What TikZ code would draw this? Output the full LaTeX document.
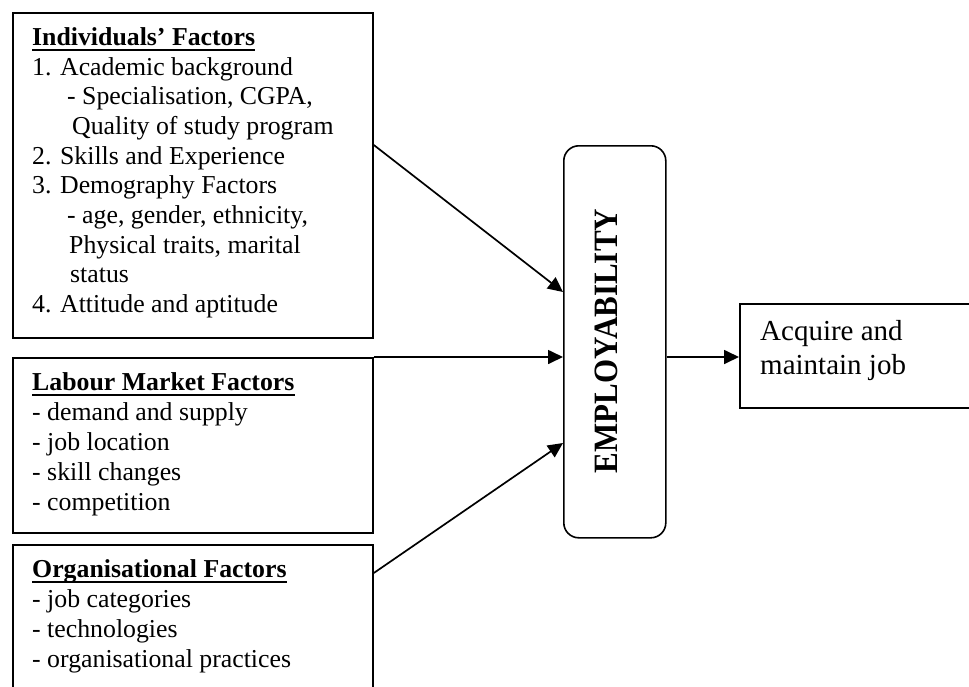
\documentclass[tikz,border=0pt]{standalone}
\usepackage{fontspec}
\setmainfont{Liberation Serif}
\usetikzlibrary{arrows.meta,calc}
\begin{document}
\begin{tikzpicture}[x=1pt,y=-1pt,
  box/.style={draw,line width=1.8pt,rectangle,inner sep=0pt,anchor=north west},
  txt/.style={anchor=base west,inner sep=0pt,font=\fontsize{25.8}{29.7}\selectfont},
  ttl/.style={txt,font=\fontsize{25.8}{29.7}\selectfont\bfseries},
  arr/.style={line width=1.7pt,-{Triangle[length=15pt,width=14pt]}},
  uline/.style={line width=2pt}]
\useasboundingbox (0,0) rectangle (969,686);
\clip (0,0) rectangle (969,686);
% boxes
\node[box,minimum width=360pt,minimum height=325pt] (b1) at (12,12) {};
\node[box,minimum width=360pt,minimum height=175pt] (b2) at (12,357) {};
\node[box,minimum width=360pt,minimum height=160pt] (b3) at (12,544) {};
\node[draw,line width=1.6pt,rounded corners=15pt,anchor=north west,inner sep=0pt,
      minimum width=102pt,minimum height=392pt] (emp) at (563,145) {};
\node[box,minimum width=260pt,minimum height=104pt] (acq) at (739,303) {};
% box 1 text
\node[ttl] (t1) at (32,45) {Individuals’ Factors};
\draw[uline] ($(t1.base west)+(0,5)$) -- ($(t1.base east)+(0,5)$);
\node[txt] (l11) at (32,75) {1. Academic background};
\node[txt] (l12) at (67,104) {- Specialisation, CGPA,};
\node[txt] (l13) at (72,134) {Quality of study program};
\node[txt] (l14) at (32,164) {2. Skills and Experience};
\node[txt] (l15) at (32,193) {3. Demography Factors};
\node[txt] (l16) at (67,223) {- age, gender, ethnicity,};
\node[txt] (l17) at (69,253) {Physical traits, marital};
\node[txt] (l18) at (70,282) {status};
\node[txt] (l19) at (32,312) {4. Attitude and aptitude};
% box 2 text
\node[ttl] (t2) at (32,390) {Labour Market Factors};
\draw[uline] ($(t2.base west)+(0,5)$) -- ($(t2.base east)+(0,5)$);
\node[txt] (l21) at (32,420) {- demand and supply};
\node[txt] (l22) at (32,450) {- job location};
\node[txt] (l23) at (32,480) {- skill changes};
\node[txt] (l24) at (32,510) {- competition};
% box 3 text
\node[ttl] (t3) at (32,577) {Organisational Factors};
\draw[uline] ($(t3.base west)+(0,5)$) -- ($(t3.base east)+(0,5)$);
\node[txt] (l31) at (32,607) {- job categories};
\node[txt] (l32) at (32,637) {- technologies};
\node[txt] (l33) at (32,667) {- organisational practices};
% employability label
\node[rotate=90,anchor=base,inner sep=0pt,font=\fontsize{31}{35}\selectfont\bfseries] (empt) at (617,341) {\scalebox{1}[1.1]{EMPLOYABILITY}};
% acquire text
\node[txt,font=\fontsize{29}{34}\selectfont] (a1) at (760,340) {Acquire and};
\node[txt,font=\fontsize{29}{34}\selectfont] (a2) at (760,374) {maintain job};
% connectors
\coordinate (s1) at (b1.east |- 0,145);
\coordinate (e1) at (emp.west |- 0,292);
\coordinate (s3) at (b3.east |- 0,573);
\coordinate (e3) at (emp.west |- 0,443);
\coordinate (e2) at (emp.west |- b2.north);
\coordinate (s4) at (emp.east |- b2.north);
\coordinate (e4) at (acq.west |- b2.north);
\draw[arr] (s1) -- (e1);
\draw[arr] (b2.north east) -- (e2);
\draw[arr] (s3) -- (e3);
\draw[arr] (s4) -- (e4);
\end{tikzpicture}
\end{document}
